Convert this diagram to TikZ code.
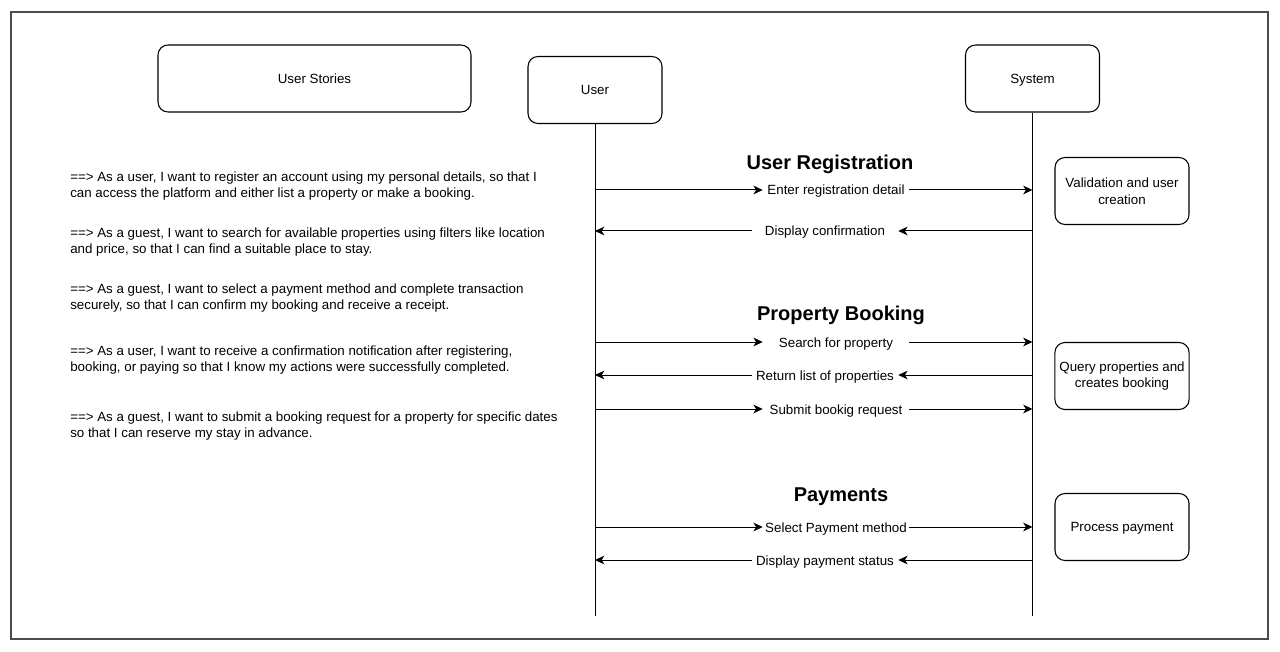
\documentclass[tikz,border=0pt]{standalone}
\usepackage{fontspec}
\setmainfont{Liberation Sans}
\usetikzlibrary{shapes, arrows.meta, calc, positioning}

\begin{document}
\begin{tikzpicture}[>={Stealth[length=7pt, width=6.5pt, inset=2pt]}, x=0.75pt, y=-0.75pt]
	\tikzstyle{box} = [draw, line width=0.8pt, rounded corners=7.5pt, minimum width=100.5pt, minimum height=50.25pt, font=\fontsize{10}{12.6}\selectfont]
	\tikzstyle{head} = [box, text height=9pt, text depth=2.1pt]
	\tikzstyle{note} = [box, align=center]
	\tikzstyle{msg} = [inner sep=0pt, minimum width=109.5pt, text height=8.5pt, text depth=1pt, font=\fontsize{10}{12}\selectfont]
	\tikzstyle{story} = [anchor=west, align=left, inner sep=0pt, font=\fontsize{10}{12}\selectfont]
	\tikzstyle{title} = [inner sep=0pt, font=\fontsize{15}{18}\selectfont\bfseries]
	\tikzstyle{call} = [->, line width=0.75pt]

	\useasboundingbox (0,0) rectangle (1280,652);
	\draw[line width=1.1pt, black!70] (11,12) rectangle (1268,639);

	% heads and lifelines
	\node[head, minimum width=234.75pt] (stories) at (314.5,78.5) {User Stories};
	\node[head] (user) at (595,90) {User};
	\node[head] (system) at (1032.5,78.5) {System};
	\coordinate (uend) at (595,616);
	\coordinate (send) at (1032.5,616);
	\draw[line width=0.75pt] (user) -- (uend);
	\draw[line width=0.75pt] (system) -- (send);

	% user stories
	\node[story] (us1) at (70,186) {==> As a user, I want to register an account using my personal details, so that I\\can access the platform and either list a property or make a booking.};
	\node[story] (us2) at (70,242) {==> As a guest, I want to search for available properties using filters like location\\and price, so that I can find a suitable place to stay.};
	\node[story] (us3) at (70,298) {==> As a guest, I want to select a payment method and complete transaction\\securely, so that I can confirm my booking and receive a receipt.};
	\node[story] (us4) at (70,360) {==> As a user, I want to receive a confirmation notification after registering,\\booking, or paying so that I know my actions were successfully completed.};
	\node[story] (us5) at (70,426) {==> As a guest, I want to submit a booking request for a property for specific dates\\so that I can reserve my stay in advance.};

	% user registration
	\node[title] (reg) at (830,164) {User Registration};
	\node[msg] (m1) at (836,190) {Enter registration detail};
	\node[msg] (m2) at (825,231) {Display confirmation};
	\node[note] (valid) at (1122,191) {Validation and user\\creation};
	\path[call]
		(user |- m1) edge (m1.west)
		(m1.east) edge (system |- m1)
		(system |- m2) edge (m2.east)
		(m2.west) edge (user |- m2)
	;

	% property booking
	\node[title] (book) at (841,315) {Property Booking};
	\node[msg] (m3) at (836,342) {Search for property};
	\node[msg] (m4) at (825,375) {Return list of properties};
	\node[msg] (m5) at (836,409) {Submit bookig request};
	\node[note] (query) at (1122,376) {Query properties and\\creates booking};
	\path[call]
		(user |- m3) edge (m3.west)
		(m3.east) edge (system |- m3)
		(system |- m4) edge (m4.east)
		(m4.west) edge (user |- m4)
		(user |- m5) edge (m5.west)
		(m5.east) edge (system |- m5)
	;

	% payments
	\node[title] (pay) at (841,497) {Payments};
	\node[msg] (m6) at (836,527) {Select Payment method};
	\node[msg] (m7) at (825,560) {Display payment status};
	\node[head] (process) at (1122,527) {Process payment};
	\path[call]
		(user |- m6) edge (m6.west)
		(m6.east) edge (system |- m6)
		(system |- m7) edge (m7.east)
		(m7.west) edge (user |- m7)
	;
\end{tikzpicture}
\end{document}
